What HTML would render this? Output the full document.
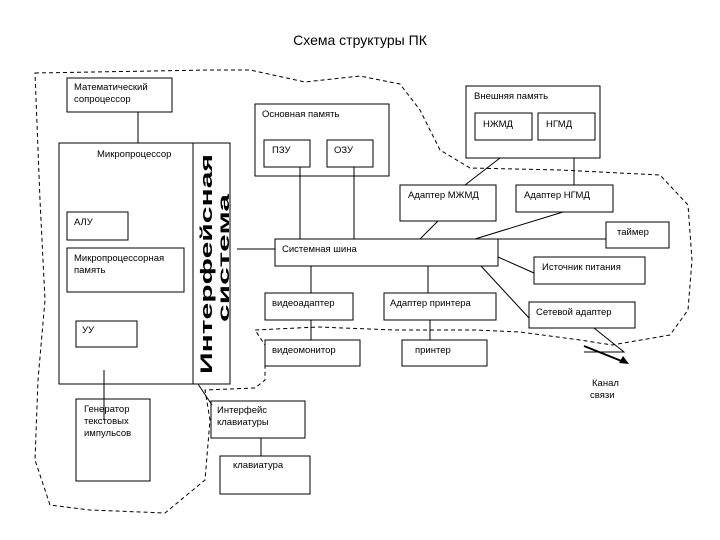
<!DOCTYPE html>
<html><head><meta charset="utf-8"><style>
html,body{margin:0;padding:0;background:#fff;}
svg{display:block;}
text{font-family:"Liberation Sans",sans-serif;font-size:9.5px;fill:#000;}
</style></head><body>
<svg width="720" height="540" viewBox="0 0 720 540" xmlns="http://www.w3.org/2000/svg">
<rect width="720" height="540" fill="#fff"/>
<text x="360" y="45" text-anchor="middle" style="font-size:14px">Схема структуры ПК</text>

<path d="M35,73 L210,70 L250,70 L305,82 L360,76 L400,84 L420,110 L440,150 L470,168 L560,170 L660,175 L688,205 L692,260 L688,310 L670,335 L612,345 L580,340 L520,332 L475,330 L395,330 L318,327 L255,330 L265,345 L265,380 L255,388 L205,390 L210,420 L205,480 L165,513 L90,510 L50,505 L35,460 L38,380 L45,300 L40,200 Z" fill="none" stroke="#000" stroke-width="1" stroke-dasharray="4,3"/>

<g fill="none" stroke="#000" stroke-width="1">
<rect x="67" y="78" width="105" height="34"/>
<rect x="59" y="143" width="171" height="241"/>
<line x1="193" y1="143" x2="193" y2="384"/>
<rect x="67" y="212" width="61" height="28"/>
<rect x="67" y="248" width="117" height="44"/>
<rect x="76" y="321" width="61" height="26"/>
<rect x="76" y="399" width="74" height="82"/>
<rect x="211" y="401" width="94" height="37"/>
<rect x="220" y="456" width="90" height="38"/>
<rect x="255" y="104" width="134" height="72"/>
<rect x="264" y="140" width="46" height="27"/>
<rect x="327" y="140" width="46" height="27"/>
<rect x="466" y="86" width="134" height="72"/>
<rect x="475" y="113" width="57" height="27"/>
<rect x="538" y="113" width="57" height="27"/>
<rect x="400" y="185" width="96" height="36"/>
<rect x="516" y="185" width="97" height="27"/>
<rect x="606" y="222" width="63" height="26"/>
<rect x="275" y="239" width="223" height="27"/>
<rect x="534" y="257" width="111" height="27"/>
<rect x="265" y="293" width="88" height="27"/>
<rect x="384" y="293" width="112" height="27"/>
<rect x="529" y="302" width="106" height="26"/>
<rect x="265" y="340" width="95" height="26"/>
<rect x="402" y="340" width="85" height="26"/>
<line x1="138" y1="112" x2="138" y2="143"/>
<line x1="300" y1="167" x2="300" y2="239"/>
<line x1="354" y1="167" x2="354" y2="239"/>
<line x1="237" y1="249" x2="275" y2="249"/>
<line x1="498" y1="239" x2="606" y2="239"/>
<line x1="500" y1="158" x2="465" y2="185"/>
<line x1="574" y1="158" x2="574" y2="185"/>
<line x1="438" y1="221" x2="420" y2="239"/>
<line x1="563" y1="212" x2="475" y2="239"/>
<line x1="498" y1="257" x2="534" y2="273"/>
<line x1="481" y1="266" x2="529" y2="318"/>
<line x1="311" y1="266" x2="311" y2="293"/>
<line x1="428" y1="266" x2="428" y2="293"/>
<line x1="311" y1="320" x2="311" y2="340"/>
<line x1="430" y1="320" x2="430" y2="340"/>
<line x1="104" y1="370" x2="104" y2="420"/>
<line x1="198" y1="384" x2="212" y2="405"/>
<line x1="261" y1="438" x2="261" y2="456"/>
<polyline points="594,328 624,352 584,352"/>
</g>
<line x1="584" y1="346" x2="624" y2="362" stroke="#000" stroke-width="2"/>
<polygon points="629,364 619,363 623,356" fill="#000"/>

<text x="74" y="90">Математический</text>
<text x="74" y="102">сопроцессор</text>
<text x="97" y="157">Микропроцессор</text>
<text x="74" y="225">АЛУ</text>
<text x="74" y="261">Микропроцессорная</text>
<text x="74" y="273">память</text>
<text x="82" y="333">УУ</text>
<text x="84" y="412">Генератор</text>
<text x="84" y="424">текстовых</text>
<text x="84" y="436">импульсов</text>
<text x="217" y="413">Интерфейс</text>
<text x="217" y="425">клавиатуры</text>
<text x="233" y="468">клавиатура</text>
<text x="262" y="117">Основная память</text>
<text x="272" y="153">ПЗУ</text>
<text x="334" y="153">ОЗУ</text>
<text x="474" y="99">Внешняя память</text>
<text x="483" y="127">НЖМД</text>
<text x="546" y="127">НГМД</text>
<text x="408" y="198">Адаптер МЖМД</text>
<text x="524" y="198">Адаптер НГМД</text>
<text x="617" y="235">таймер</text>
<text x="282" y="252">Системная шина</text>
<text x="542" y="270">Источник питания</text>
<text x="272" y="306">видеоадаптер</text>
<text x="390" y="306">Адаптер принтера</text>
<text x="536" y="315">Сетевой адаптер</text>
<text x="272" y="353">видеомонитор</text>
<text x="415" y="353">принтер</text>
<text x="592" y="386">Канал</text>
<text x="590" y="398">связи</text>

<text transform="translate(212,374) rotate(-90)" textLength="220" lengthAdjust="spacingAndGlyphs" style="font-size:17px;font-weight:bold">Интерфейсная</text>
<text transform="translate(229,322) rotate(-90)" textLength="128" lengthAdjust="spacingAndGlyphs" style="font-size:16px;font-weight:bold">система</text>
</svg>
</body></html>
